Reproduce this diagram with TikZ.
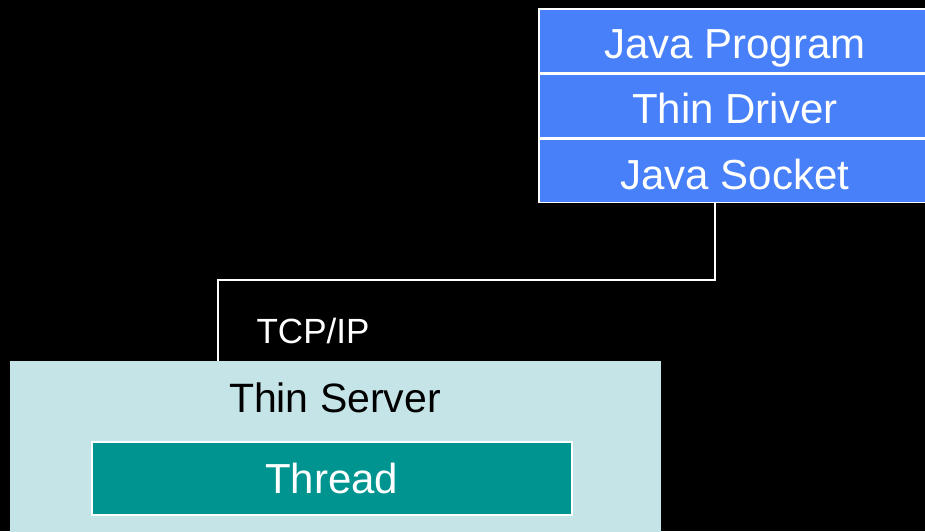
\documentclass[tikz,border=0pt]{standalone}
\usepackage{fontspec}
\setmainfont{Liberation Sans}
\definecolor{jblue}{HTML}{4780F8}
\definecolor{srvbg}{HTML}{C5E4E8}
\definecolor{thr}{HTML}{009490}
\begin{document}
\begin{tikzpicture}[x=1pt,y=-1pt,
  layer/.style={draw=white,line width=1.6pt,fill=jblue,text=white,inner sep=0pt,
    minimum width=392pt,text height=50pt,text depth=13.5pt,
    font=\fontsize{42}{50}\selectfont},
  conn/.style={draw=white,line width=2pt},
  label/.style={inner sep=0pt,anchor=base}]
\useasboundingbox (0,0) rectangle (925,531);
\fill[black] (0,0) rectangle (925,531);
\begin{scope}
\clip (0,0) rectangle (925,531);
\node[layer,anchor=north west] (prog) at (538,8) {Java Program};
\node[layer,anchor=north] (drv) at (prog.south) {Thin Driver};
\node[layer,anchor=north] (sock) at (drv.south) {Java Socket};
\node[fill=srvbg,inner sep=0pt,minimum width=651pt,minimum height=190pt,anchor=north west] (server) at (10,361) {};
\end{scope}
\node[label,font=\fontsize{41}{48}\selectfont] (srvlbl) at (335,412) {Thin Server};
\node[draw=white,line width=1.5pt,fill=thr,text=white,inner sep=0pt,minimum width=480pt,
  text height=52pt,text depth=21pt,font=\fontsize{42}{50}\selectfont,anchor=north west] (thread) at (91,441) {Thread};
\node[label,text=white,font=\fontsize{35}{42}\selectfont] (tcp) at (313,343) {TCP/IP};
\coordinate (b1) at (715,280);
\coordinate (b2) at (218,280);
\draw[conn] (sock.south -| b1) -- (b1) -- (b2) -- (b2 |- server.north);
\end{tikzpicture}
\end{document}
